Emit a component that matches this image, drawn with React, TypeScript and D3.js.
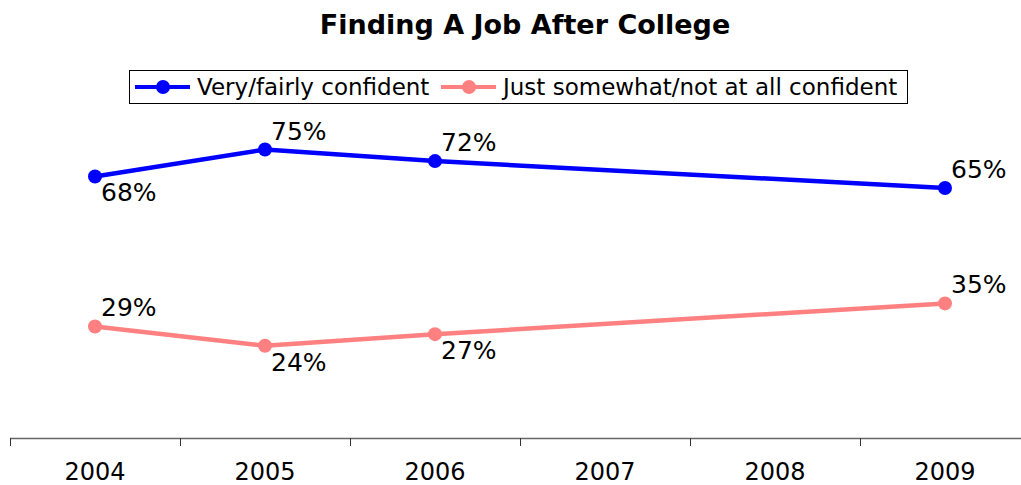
import React from "react";
import * as d3 from "d3";

const years = ["2004", "2005", "2006", "2007", "2008", "2009"];
const confidentYears = ["2004", "2005", "2006", "2009"];
const confidentValues = [68, 75, 72, 65];
const notConfidentValues = [29, 24, 27, 35];
const confidentLabelPlacement = ["below", "above", "above", "above"];
const notConfidentLabelPlacement = ["above", "below", "below", "above"];
const seriesNames = ["Very/fairly confident", "Just somewhat/not at all confident"];
const seriesColors = ["#0000ff", "#ff8080"];
const title = "Finding A Job After College";

const W = 1021;
const H = 485;
const FONT = "'DejaVu Sans', Verdana, sans-serif";

export default function App() {
  const x = d3.scaleBand<string>().domain(years).range([10, 1030]).padding(0);
  const y = d3.scaleLinear().domain([0, 100]).range([438, 53.4]);
  const cx = (yr: string) => (x(yr) as number) + x.bandwidth() / 2;

  const line = d3
    .line<[string, number]>()
    .x((d) => cx(d[0]))
    .y((d) => y(d[1]));

  const series = [
    { values: confidentValues, place: confidentLabelPlacement, color: seriesColors[0] },
    { values: notConfidentValues, place: notConfidentLabelPlacement, color: seriesColors[1] },
  ];

  const tickPositions = years.map((yr) => x(yr) as number);

  return (
    <svg width={W} height={H} style={{ position: "absolute", left: 0, top: 0, background: "#fff" }}>
      <text x={525} y={34} textAnchor="middle" fontFamily={FONT} fontWeight="bold" fontSize={27}>
        {title}
      </text>

      {/* legend */}
      <rect x={129.5} y={70.5} width={778} height={33} fill="#fff" stroke="#000" strokeWidth={1} />
      {[
        { lx: 135, tx: 197 },
        { lx: 441, tx: 503 },
      ].map((p, i) => (
        <g key={i}>
          <line x1={p.lx} x2={p.lx + 55} y1={87} y2={87} stroke={seriesColors[i]} strokeWidth={4} />
          <circle cx={p.lx + 28} cy={87} r={7} fill={seriesColors[i]} />
          <text x={p.tx} y={95} fontFamily={FONT} fontSize={23} fill="#000">
            {seriesNames[i]}
          </text>
        </g>
      ))}

      {/* axis */}
      <line x1={10} x2={W} y1={438.5} y2={438.5} stroke="#666" strokeWidth={1.5} />
      {tickPositions.map((t, i) => (
        <line key={i} x1={t + 0.5} x2={t + 0.5} y1={438} y2={446} stroke="#333" strokeWidth={1} />
      ))}
      {years.map((yr) => (
        <text key={yr} x={cx(yr)} y={480} textAnchor="middle" fontFamily={FONT} fontSize={24} fill="#000">
          {yr}
        </text>
      ))}

      {/* series */}
      {series.map((s, si) => {
        const pts = confidentYears.map((yr, i) => [yr, s.values[i]] as [string, number]);
        return (
          <g key={si}>
            <path d={line(pts) || ""} fill="none" stroke={s.color} strokeWidth={4.5} />
            {pts.map((p, i) => (
              <circle key={i} cx={cx(p[0])} cy={y(p[1])} r={7} fill={s.color} />
            ))}
            {pts.map((p, i) => (
              <text
                key={"l" + i}
                x={cx(p[0]) + 6}
                y={y(p[1]) + (s.place[i] === "above" ? -10 : 25)}
                fontFamily={FONT}
                fontSize={25}
                fill="#000"
              >
                {p[1] + "%"}
              </text>
            ))}
          </g>
        );
      })}
    </svg>
  );
}
